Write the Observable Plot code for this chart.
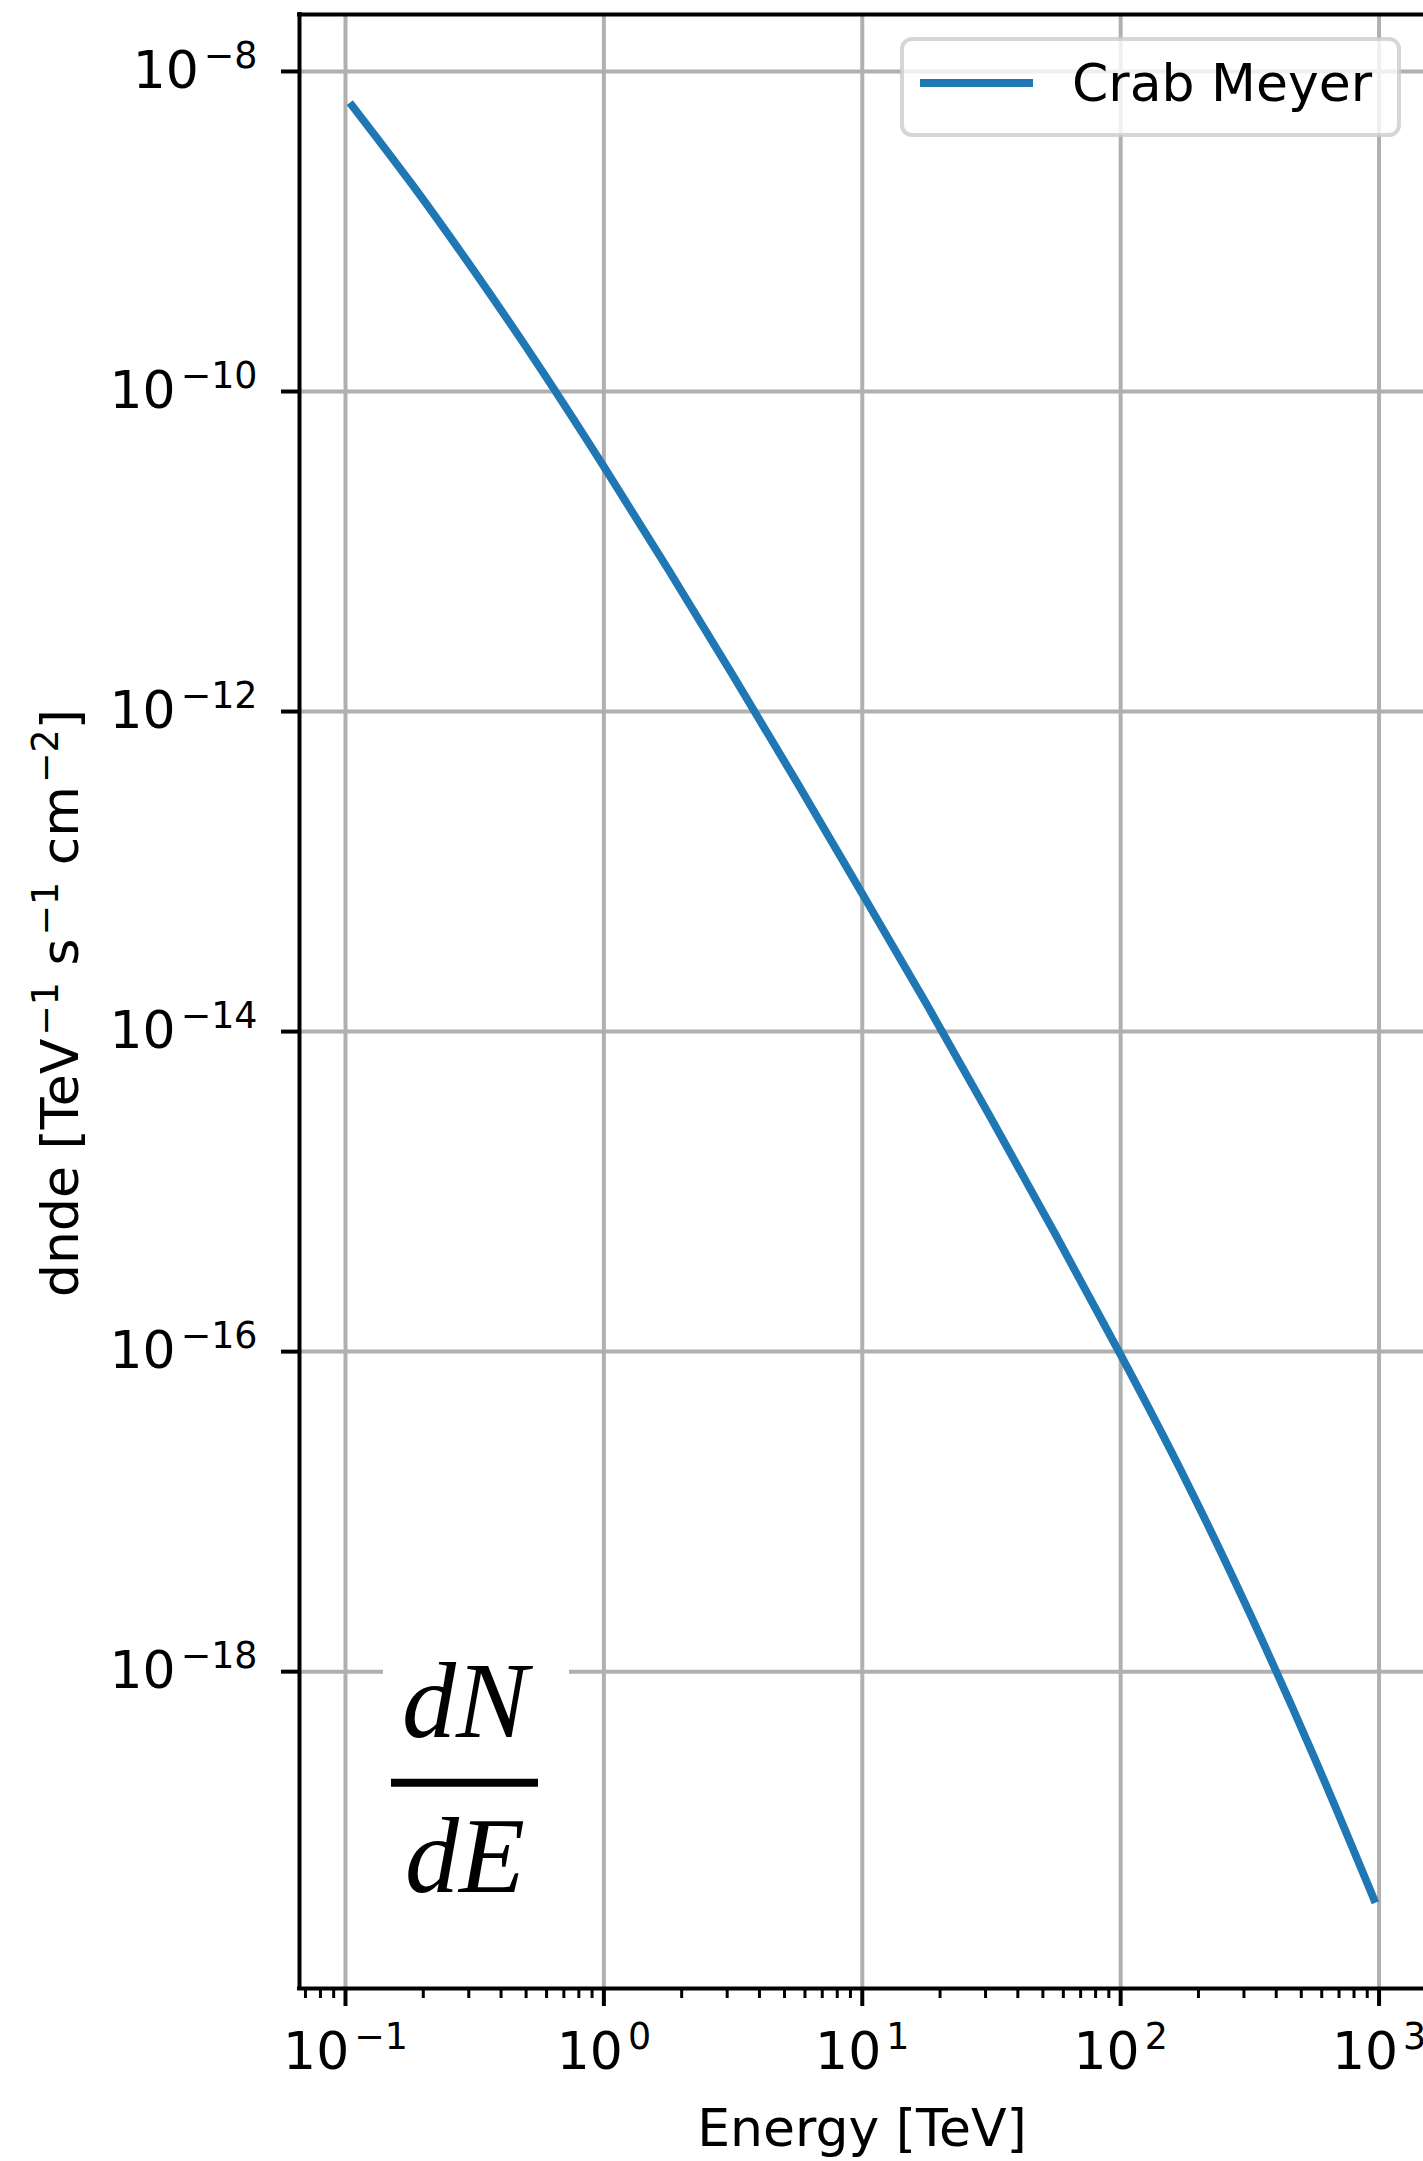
<!DOCTYPE html>
<html>
<head>
<meta charset="utf-8">
<script src="https://cdn.jsdelivr.net/npm/d3@7"></script>
<script src="https://cdn.jsdelivr.net/npm/@observablehq/plot@0.6"></script>
<style>
  html, body { margin: 0; padding: 0; background: #fff; overflow: hidden; }
  #chart svg { display: block; }
</style>
</head>
<body>
<div id="chart"></div>
<script>
// ---- data ----
const seriesName = "Crab Meyer";
const energy = [0.104, 0.178, 0.316, 0.562, 1.0, 1.78, 3.16, 5.62, 10, 17.8, 31.6, 56.2, 100, 178, 316, 562, 968];
const dnde = [6.38e-9, 2.04e-9, 5.60e-10, 1.43e-10, 3.39e-11, 7.67e-12, 1.68e-12, 3.55e-13, 7.26e-14,
              1.47e-14, 2.85e-15, 5.32e-16, 9.53e-17, 1.59e-17, 2.31e-18, 2.90e-19, 3.60e-20];
const xMajorTicks = [0.1, 1, 10, 100, 1000];
const xMinorTicks = [0.07, 0.08, 0.09,
  0.2, 0.3, 0.4, 0.5, 0.6, 0.7, 0.8, 0.9,
  2, 3, 4, 5, 6, 7, 8, 9,
  20, 30, 40, 50, 60, 70, 80, 90,
  200, 300, 400, 500, 600, 700, 800, 900];
const yMajorTicks = [1e-8, 1e-10, 1e-12, 1e-14, 1e-16, 1e-18];
const xLabel = "Energy [TeV]";
const yLabelParts = [["dnde [TeV", ""], ["−1", "sup"], [" s", ""], ["−1", "sup"], [" cm", ""], ["−2", "sup"], ["]", ""]];
const annotationNumerator = "dN";
const annotationDenominator = "dE";

// ---- layout / style ----
const W = 1423, H = 2161;
const xDomain = [10 ** -1.178, 10 ** 3.172];
const yDomain = [10 ** -19.98, 10 ** -7.644];
const blue = "#1f77b4";
const gridColor = "#b0b0b0";
const FS = 52;

const data = energy.map((e, i) => ({energy: e, dnde: dnde[i]}));
const ann = {x: 10 ** -0.5375, y: 10 ** -18.694, x1: 10 ** -0.822, x2: 10 ** -0.253,
             bx1: 10 ** -0.853, bx2: 10 ** -0.133, by1: 10 ** -19.53, by2: 10 ** -17.84};

const expFmt = d => "10^" + String(Math.round(Math.log10(d))).replace("-", "−");

const plot = Plot.plot({
  width: W,
  height: H,
  marginLeft: 299,
  marginRight: 0,
  marginTop: 14,
  marginBottom: 173,
  style: {fontFamily: "DejaVu Sans", fontSize: FS + "px", background: "white", color: "black"},
  x: {type: "log", domain: xDomain, label: null},
  y: {type: "log", domain: yDomain, label: null},
  marks: [
    Plot.gridX(xMajorTicks, {stroke: gridColor, strokeOpacity: 1, strokeWidth: 4}),
    Plot.gridY(yMajorTicks, {stroke: gridColor, strokeOpacity: 1, strokeWidth: 4}),
    Plot.rect([ann], {x1: "bx1", x2: "bx2", y1: "by1", y2: "by2", fill: "white"}),
    Plot.line(data, {x: "energy", y: "dnde", stroke: blue, strokeWidth: 7.8, curve: "natural", strokeLinecap: "butt"}),
    Plot.text([ann], {x: "x", y: "y", text: () => annotationNumerator, lineAnchor: "bottom", dy: -46,
      fontFamily: "Liberation Serif", fontStyle: "italic", fontSize: 108, fill: "black"}),
    Plot.text([ann], {x: "x", y: "y", text: () => annotationDenominator, lineAnchor: "bottom", dy: 109,
      fontFamily: "Liberation Serif", fontStyle: "italic", fontSize: 108, fill: "black"}),
    Plot.ruleY([ann], {y: "y", x1: "x1", x2: "x2", stroke: "black", strokeWidth: 8}),
    Plot.ruleX([xDomain[0]], {stroke: "black", strokeWidth: 4, strokeLinecap: "square"}),
    Plot.ruleY([yDomain[0], yDomain[1]], {stroke: "black", strokeWidth: 4, strokeLinecap: "square"}),
    Plot.axisY(yMajorTicks, {anchor: "left", tickSize: 18, tickPadding: 24, tickFormat: expFmt,
      strokeWidth: 4, fontSize: FS, label: null}),
    Plot.axisX(xMinorTicks, {anchor: "bottom", tickSize: 10, tickFormat: () => "", strokeWidth: 3, label: null}),
    Plot.axisX(xMajorTicks, {anchor: "bottom", tickSize: 18, tickPadding: 26, tickFormat: expFmt,
      strokeWidth: 4, fontSize: FS, label: null})
  ]
});

document.getElementById("chart").appendChild(plot);
const svg = d3.select(plot);
const ns = "http://www.w3.org/2000/svg";

// superscripts in tick labels
svg.selectAll("text").each(function() {
  const s = this.textContent;
  if (!s || s.indexOf("^") < 0) return;
  const [base, exp] = s.split("^");
  this.textContent = "";
  const t1 = document.createElementNS(ns, "tspan");
  t1.textContent = base;
  this.appendChild(t1);
  const t2 = document.createElementNS(ns, "tspan");
  t2.textContent = exp;
  t2.setAttribute("font-size", (FS * 0.7) + "px");
  t2.setAttribute("dy", "-20");
  t2.setAttribute("dx", "5");
  this.appendChild(t2);
});

// y axis label
const yl = svg.append("text")
  .attr("transform", "translate(78,1003) rotate(-90)")
  .attr("text-anchor", "middle")
  .attr("font-family", "DejaVu Sans")
  .attr("font-size", FS)
  .attr("fill", "black");
let raised = false;
yLabelParts.forEach(([t, kind]) => {
  const ts = yl.append("tspan").text(t);
  if (kind === "sup") {
    ts.attr("font-size", FS * 0.7).attr("dy", -20).attr("dx", 3);
    raised = true;
  } else if (raised) {
    ts.attr("dy", 20);
    raised = false;
  }
});

// x axis label
svg.append("text")
  .attr("x", 862).attr("y", 2146)
  .attr("text-anchor", "middle")
  .attr("font-family", "DejaVu Sans")
  .attr("font-size", FS)
  .attr("fill", "black")
  .text(xLabel);

// legend
const lg = svg.append("g");
lg.append("rect")
  .attr("x", 902).attr("y", 39).attr("width", 497).attr("height", 96)
  .attr("rx", 10).attr("ry", 10)
  .attr("fill", "white").attr("fill-opacity", 0.8)
  .attr("stroke", "#cccccc").attr("stroke-opacity", 0.8).attr("stroke-width", 4);
lg.append("line")
  .attr("x1", 920).attr("x2", 1033).attr("y1", 83).attr("y2", 83)
  .attr("stroke", blue).attr("stroke-width", 7.8);
lg.append("text")
  .attr("x", 1072).attr("y", 101)
  .attr("text-anchor", "start")
  .attr("font-family", "DejaVu Sans")
  .attr("font-size", FS)
  .attr("fill", "black")
  .text(seriesName);
</script>
</body>
</html>
